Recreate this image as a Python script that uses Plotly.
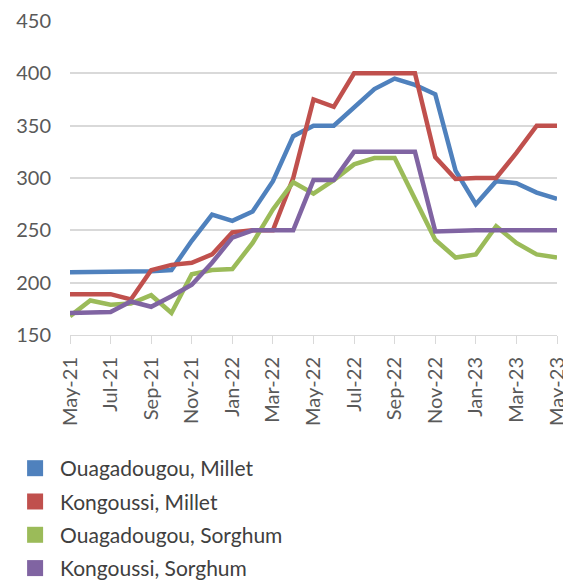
import plotly.graph_objects as go

months = ["May-21", "Jun-21", "Jul-21", "Aug-21", "Sep-21", "Oct-21", "Nov-21", "Dec-21",
          "Jan-22", "Feb-22", "Mar-22", "Apr-22", "May-22", "Jun-22", "Jul-22", "Aug-22",
          "Sep-22", "Oct-22", "Nov-22", "Dec-22", "Jan-23", "Feb-23", "Mar-23", "Apr-23", "May-23"]

ouaga_millet = [210, 210, 210, 210, 211, 212, 240, 265, 259, 268, 297, 340, 350, 350, 368, 385,
                395, 389, 380, 307, 275, 297, 295, 286, 280]
kong_millet = [189, 189, 189, 184, 212, 217, 219, 227, 248, 250, 250, 300, 375, 368, 400, 400,
               400, 400, 320, 299, 300, 300, 324, 350, 350]
ouaga_sorghum = [168, 183, 179, 180, 188, 171, 208, 212, 213, 238, 270, 296, 285, 298, 313, 319,
                 319, 279, 241, 224, 227, 254, 238, 227, 224]
kong_sorghum = [171, 172, 172, 182, 177, 187, 198, 219, 243, 250, 250, 250, 298, 298, 325, 325,
                325, 325, 249, 250, 250, 250, 250, 250, 250]

series_names = ["Ouagadougou, Millet", "Kongoussi, Millet", "Ouagadougou, Sorghum", "Kongoussi, Sorghum"]
series_values = [ouaga_millet, kong_millet, ouaga_sorghum, kong_sorghum]
colors = ["#4F81BD", "#C0504D", "#9BBB59", "#8064A2"]

y_ticks = [150, 200, 250, 300, 350, 400, 450]
x_tick_labels = months[::2]

FONT = "Lato"

fig = go.Figure()
for name, vals, col in zip(series_names, series_values, colors):
    fig.add_trace(go.Scatter(x=months, y=vals, mode="lines", name=name,
                             line=dict(color=col, width=4.5), showlegend=False,
                             hoverinfo="x+y+name"))
for i, (name, col) in enumerate(zip(series_names, colors)):
    fig.add_trace(go.Scatter(x=[None], y=[None], mode="markers", name=name,
                             marker=dict(symbol="square", size=18, color=col),
                             legendgroup=f"g{i}", showlegend=True))

# page body has an 8px margin, so the figure is 8px smaller than the window
fig.update_layout(
    width=563, height=574,
    margin=dict(l=62, r=14, t=13, b=247, autoexpand=False),
    paper_bgcolor="white", plot_bgcolor="white",
    font=dict(family=FONT, size=20, color="#595959"),
    showlegend=True,
    legend=dict(x=-0.123, xanchor="left", y=-0.36, yanchor="top",
                orientation="v", tracegroupgap=3, itemwidth=40,
                font=dict(family=FONT, size=21, color="#404040"),
                itemsizing="trace", bgcolor="rgba(0,0,0,0)"),
    xaxis=dict(type="category", range=[0, len(months) - 1],
               tickmode="array", tickvals=x_tick_labels, ticktext=x_tick_labels,
               tickangle=-90, ticks="outside", ticklen=8, tickcolor="#d9d9d9",
               showline=True, linecolor="#d9d9d9", linewidth=1,
               showgrid=False, zeroline=False, ticklabelstandoff=5,
               tickfont=dict(family=FONT, size=20, color="#595959")),
    yaxis=dict(range=[150, 450], tickmode="array", tickvals=y_ticks,
               showgrid=True, gridcolor="#d9d9d9", gridwidth=1.5,
               showline=False, zeroline=False, ticks="", ticklabelstandoff=18,
               tickfont=dict(family=FONT, size=20, color="#595959")),
)

fig.write_html("out.html")
